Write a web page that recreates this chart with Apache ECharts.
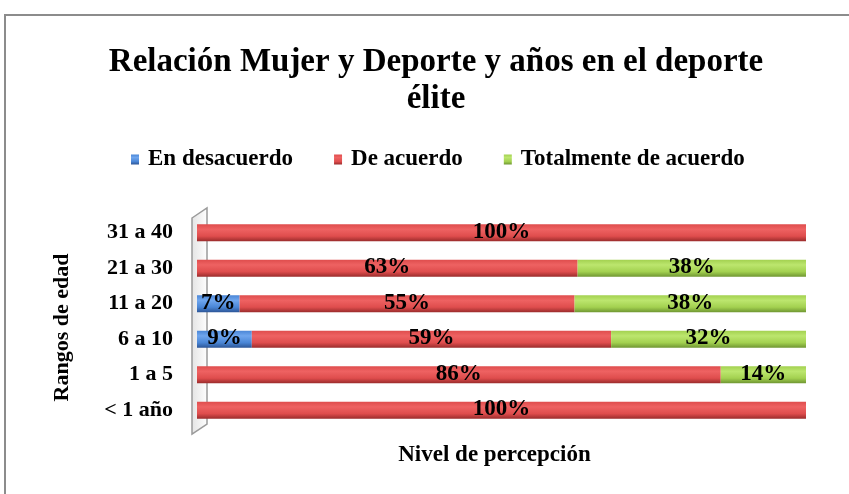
<!DOCTYPE html>
<html>
<head>
<meta charset="utf-8">
<script src="https://cdn.jsdelivr.net/npm/echarts@6/dist/echarts.min.js"></script>
<style>
  html, body { margin: 0; padding: 0; background: #fff; }
  #chart { width: 849px; height: 494px; }
</style>
</head>
<body>
<div id="chart"></div>
<script>
var categorias = ['< 1 año', '1 a 5', '6 a 10', '11 a 20', '21 a 30', '31 a 40'];
var enDesacuerdo = [0, 0, 9, 7, 0, 0];
var deAcuerdo = [100, 86, 59, 55, 62.5, 100];
var totalmenteDeAcuerdo = [0, 14, 32, 38, 37.5, 0];

var fuente = 'Liberation Serif';

function cilindro(claro, medio, oscuro) {
  return new echarts.graphic.LinearGradient(0, 0, 0, 1, [
    { offset: 0, color: medio },
    { offset: 0.3, color: claro },
    { offset: 0.7, color: medio },
    { offset: 1, color: oscuro }
  ]);
}

var etiqueta = {
  show: true,
  position: 'inside',
  offset: [0, -1],
  color: '#000',
  fontFamily: fuente,
  fontWeight: 'bold',
  fontSize: 23,
  formatter: function (p) {
    return p.value > 0 ? Math.round(p.value) + '%' : '';
  }
};

var myChart = echarts.init(document.getElementById('chart'));

var option = {
  backgroundColor: '#fff',
  title: {
    text: 'Relación Mujer y Deporte y años en el deporte\nélite',
    left: 431,
    top: 39,
    textAlign: 'center',
    textStyle: {
      fontFamily: fuente,
      fontWeight: 'bold',
      fontSize: 33,
      lineHeight: 37,
      color: '#000'
    }
  },
  legend: {
    data: ['En desacuerdo', 'De acuerdo', 'Totalmente de acuerdo'],
    top: 143,
    left: 126,
    icon: 'rect',
    itemWidth: 8,
    itemHeight: 10,
    itemGap: 41,
    textStyle: {
      fontFamily: fuente,
      fontWeight: 'bold',
      fontSize: 23,
      color: '#000',
      padding: [0, 0, 0, 4]
    }
  },
  grid: {
    left: 197,
    right: 43,
    top: 215,
    bottom: 66
  },
  xAxis: {
    type: 'value',
    min: 0,
    max: 100,
    name: 'Nivel de percepción',
    nameLocation: 'middle',
    nameGap: 16,
    nameTextStyle: {
      fontFamily: fuente,
      fontWeight: 'bold',
      fontSize: 23,
      color: '#000',
      padding: [0, 14, 0, 0]
    },
    axisLine: { show: false },
    axisTick: { show: false },
    axisLabel: { show: false },
    splitLine: { show: false }
  },
  yAxis: {
    type: 'category',
    data: categorias,
    name: 'Rangos de edad',
    nameLocation: 'middle',
    nameGap: 124,
    nameTextStyle: {
      fontFamily: fuente,
      fontWeight: 'bold',
      fontSize: 22,
      color: '#000',
      padding: [0, 12, 0, 0]
    },
    axisLine: { show: false },
    axisTick: { show: false },
    axisLabel: {
      margin: 24,
      fontFamily: fuente,
      fontWeight: 'bold',
      fontSize: 22,
      color: '#000'
    }
  },
  graphic: [
    {
      type: 'rect',
      shape: { x: 5, y: 15, width: 900, height: 520 },
      style: { fill: 'none', stroke: '#8c8c8c', lineWidth: 2 },
      silent: true
    },
    {
      type: 'polygon',
      shape: { points: [[192, 218], [207, 208], [207, 424], [192, 434]] },
      style: {
        fill: new echarts.graphic.LinearGradient(0, 0, 1, 0, [
          { offset: 0, color: '#e3e3e3' },
          { offset: 1, color: '#ffffff' }
        ]),
        stroke: '#9a9a9a',
        lineWidth: 1.5
      },
      z: -1,
      silent: true
    }
  ],
  series: [
    {
      name: 'En desacuerdo',
      type: 'bar',
      stack: 'total',
      barWidth: 17,
      data: enDesacuerdo,
      label: etiqueta,
      itemStyle: { color: cilindro('#6fa6ee', '#4a86d6', '#2c5596') }
    },
    {
      name: 'De acuerdo',
      type: 'bar',
      stack: 'total',
      barWidth: 17,
      data: deAcuerdo,
      label: etiqueta,
      itemStyle: { color: cilindro('#ee6262', '#df4d4d', '#9a2c2c') }
    },
    {
      name: 'Totalmente de acuerdo',
      type: 'bar',
      stack: 'total',
      barWidth: 17,
      data: totalmenteDeAcuerdo,
      label: etiqueta,
      itemStyle: { color: cilindro('#bce66e', '#a3d150', '#6f9632') }
    }
  ]
};

myChart.setOption(option);
</script>
</body>
</html>
